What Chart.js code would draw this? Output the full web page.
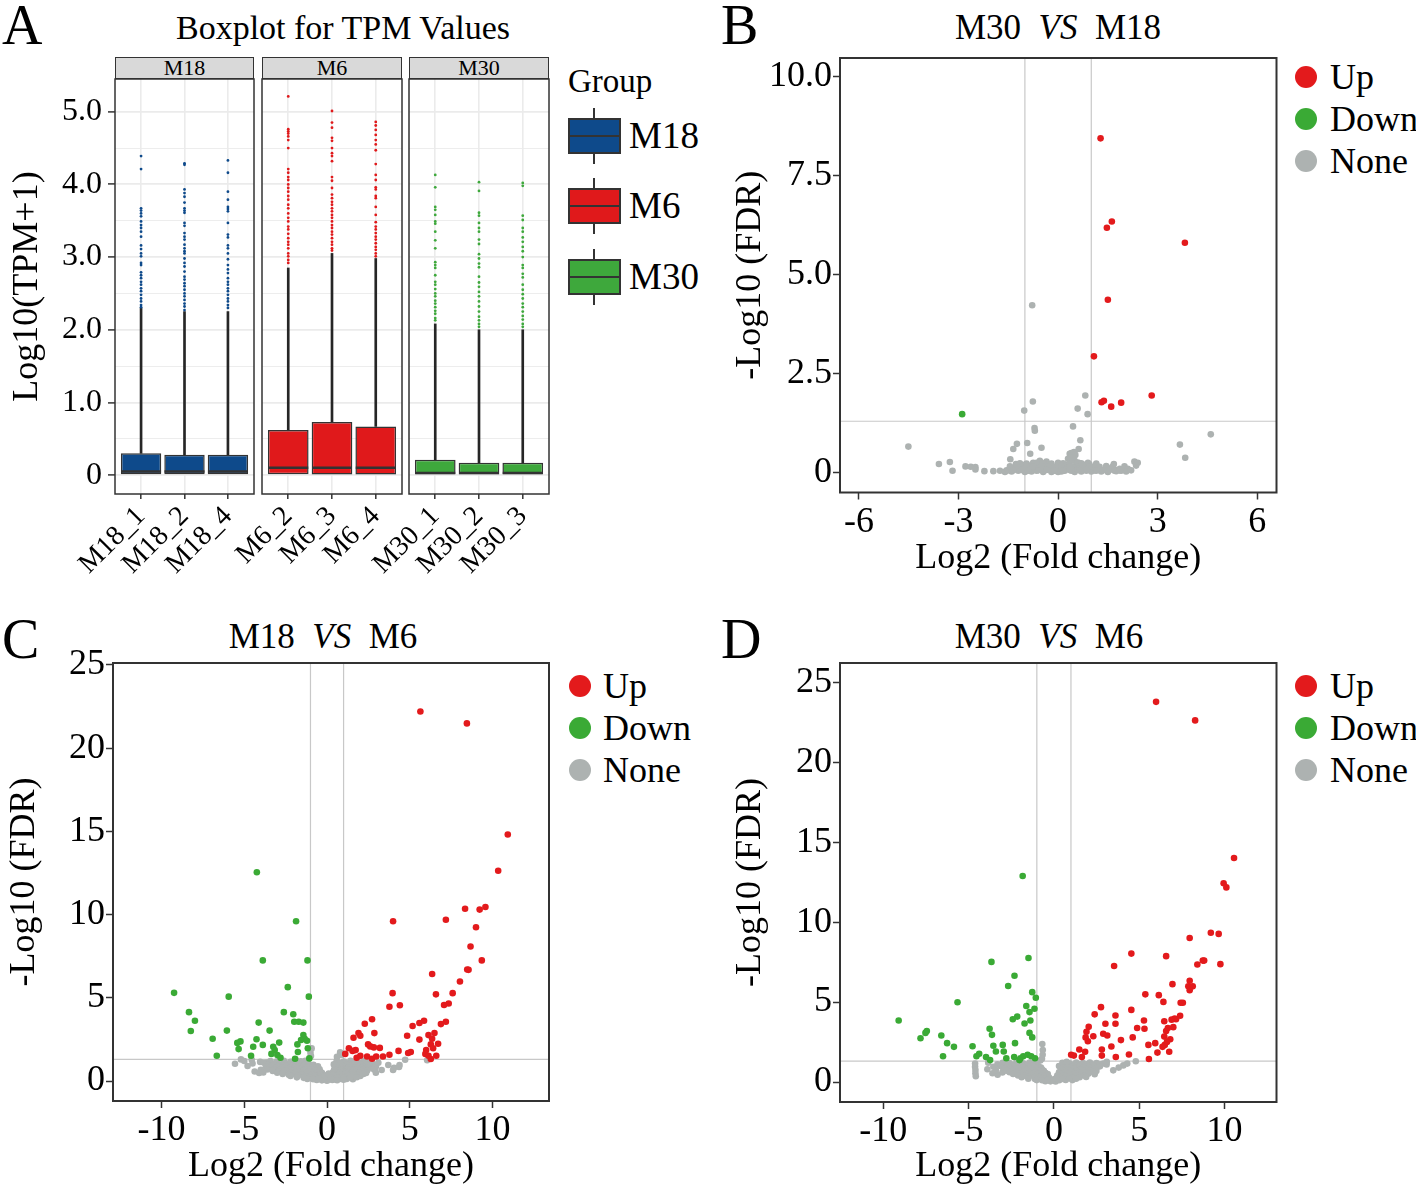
<!DOCTYPE html>
<html>
<head>
<meta charset="utf-8">
<title>TPM boxplot and volcano plots</title>
<script src="https://cdn.jsdelivr.net/npm/chart.js@4.4.1/dist/chart.umd.min.js"></script>
<style>
  html, body { margin: 0; background: #fff; }
  #fig { position: relative; width: 1416px; height: 1188px; overflow: hidden; font-family: 'Liberation Serif', 'Times New Roman', serif; color: #000; }
  #fig canvas { position: absolute; }
  .txt { position: absolute; white-space: pre; line-height: 1; }
  .mid { transform: translateX(-50%); }
  .dot { position: absolute; width: 22px; height: 22px; border-radius: 50%; }
  .strip { position: absolute; top: 57px; height: 22px; box-sizing: border-box; border: 1.5px solid #333; background: #d9d9d9; font-size: 22px; line-height: 20px; text-align: center; }
  .key { position: absolute; box-sizing: border-box; }
</style>
</head>
<body>
<div id="fig">
  <div class="txt" style="left:2px;top:-3px;font-size:56px">A</div>
  <div class="txt" style="left:721px;top:-3px;font-size:56px">B</div>
  <div class="txt" style="left:2px;top:611px;font-size:56px">C</div>
  <div class="txt" style="left:721px;top:611px;font-size:56px">D</div>

  <div class="txt mid" style="left:343px;top:11px;font-size:34px">Boxplot for TPM Values</div>
  <div class="txt mid" style="left:1058px;top:10px;font-size:35px">M30  <i>VS</i>  M18</div>
  <div class="txt mid" style="left:323px;top:619px;font-size:35px">M18  <i>VS</i>  M6</div>
  <div class="txt mid" style="left:1049px;top:619px;font-size:35px">M30  <i>VS</i>  M6</div>

  <div class="strip" style="left:115px;width:139px">M18</div>
  <div class="strip" style="left:262px;width:140px">M6</div>
  <div class="strip" style="left:409px;width:140px">M30</div>

  <div class="txt" style="left:568px;top:65px;font-size:33px">Group</div>
  <div id="legA"></div>
  <div id="legB"></div>
  <div id="legC"></div>
  <div id="legD"></div>

  <canvas id="a1" width="299" height="580" style="left:0;top:0"></canvas>
  <canvas id="a2" width="247" height="580" style="left:200px;top:0"></canvas>
  <canvas id="a3" width="244" height="580" style="left:350px;top:0"></canvas>
  <canvas id="cb" width="706" height="580" style="left:710px;top:0"></canvas>
  <canvas id="cc" width="710" height="588" style="left:0;top:600px"></canvas>
  <canvas id="cd" width="706" height="588" style="left:710px;top:600px"></canvas>
</div>

<script>
// ---- Panel A : boxplot des TPM (log10) ----
const aGroups = ['M18', 'M6', 'M30'];
const aSamplesM18 = ['M18_1', 'M18_2', 'M18_4'];
const aSamplesM6 = ['M6_2', 'M6_3', 'M6_4'];
const aSamplesM30 = ['M30_1', 'M30_2', 'M30_3'];

const aQ1M18 = [0, 0, 0];
const aMedM18 = [0.05, 0.05, 0.05];
const aQ3M18 = [0.30, 0.28, 0.28];
const aHiM18 = [2.30, 2.25, 2.25];

const aQ1M6 = [0, 0.01, 0.01];
const aMedM6 = [0.10, 0.10, 0.10];
const aQ3M6 = [0.62, 0.73, 0.67];
const aHiM6 = [2.85, 3.05, 2.98];

const aQ1M30 = [0, 0, 0];
const aMedM30 = [0.03, 0.03, 0.03];
const aQ3M30 = [0.21, 0.17, 0.17];
const aHiM30 = [2.08, 2.00, 2.00];

const aOutM18_1 = [4.39, 4.21, 3.67, 3.64, 3.60, 3.56, 3.49, 3.44, 3.40, 3.35, 3.28, 3.16, 3.11, 3.05, 3.01, 2.92, 2.89, 2.79, 2.75, 2.71, 2.66, 2.62, 2.57, 2.53, 2.48, 2.43, 2.39, 2.34, 2.31];
const aOutM18_2 = [4.29, 4.27, 3.93, 3.88, 3.83, 3.75, 3.67, 3.64, 3.61, 3.47, 3.43, 3.33, 3.28, 3.24, 3.17, 3.12, 3.08, 3.05, 2.98, 2.92, 2.87, 2.80, 2.73, 2.69, 2.64, 2.60, 2.55, 2.50, 2.46, 2.41, 2.36, 2.32, 2.27];
const aOutM18_4 = [4.33, 4.16, 3.90, 3.79, 3.69, 3.66, 3.63, 3.47, 3.31, 3.27, 3.16, 3.12, 3.05, 2.97, 2.89, 2.83, 2.78, 2.71, 2.66, 2.62, 2.57, 2.53, 2.48, 2.43, 2.39, 2.34, 2.30];
const aOutM6_2 = [5.21, 4.76, 4.73, 4.70, 4.66, 4.61, 4.50, 4.21, 4.16, 4.10, 4.06, 4.00, 3.95, 3.90, 3.84, 3.79, 3.72, 3.67, 3.60, 3.54, 3.49, 3.42, 3.38, 3.32, 3.26, 3.21, 3.17, 3.12, 3.05, 3.01, 2.96, 2.92];
const aOutM6_3 = [5.01, 4.85, 4.78, 4.64, 4.60, 4.50, 4.43, 4.39, 4.32, 4.10, 4.05, 3.95, 3.86, 3.81, 3.76, 3.72, 3.67, 3.63, 3.58, 3.54, 3.49, 3.44, 3.40, 3.35, 3.31, 3.26, 3.21, 3.17, 3.12, 3.09];
const aOutM6_4 = [4.86, 4.81, 4.75, 4.68, 4.61, 4.55, 4.47, 4.28, 4.13, 4.06, 3.96, 3.93, 3.84, 3.81, 3.69, 3.58, 3.48, 3.42, 3.38, 3.33, 3.28, 3.24, 3.19, 3.14, 3.10, 3.05, 3.01];
const aOutM30_1 = [4.13, 3.96, 3.69, 3.65, 3.58, 3.49, 3.46, 3.35, 3.23, 3.12, 2.93, 2.89, 2.85, 2.75, 2.66, 2.62, 2.56, 2.50, 2.46, 2.40, 2.36, 2.31, 2.26, 2.22, 2.16, 2.13];
const aOutM30_2 = [4.03, 3.91, 3.61, 3.57, 3.47, 3.40, 3.35, 3.24, 3.18, 3.04, 2.98, 2.91, 2.86, 2.73, 2.65, 2.59, 2.52, 2.46, 2.39, 2.32, 2.25, 2.18, 2.13, 2.08, 2.04];
const aOutM30_3 = [4.02, 3.98, 3.57, 3.51, 3.40, 3.35, 3.27, 3.21, 3.14, 3.08, 3.00, 2.89, 2.85, 2.77, 2.72, 2.62, 2.55, 2.49, 2.43, 2.36, 2.31, 2.25, 2.19, 2.14, 2.08, 2.04];

const aYTicks = [0, 1, 2, 3, 4, 5];
const aYGrid = [0, 0.5, 1, 1.5, 2, 2.5, 3, 3.5, 4, 4.5, 5];

// ---- Panels B, C, D : volcano plots, points [log2FC, -log10 FDR] ----
const FC_CUT = 1;
const FDR_CUT = 1.3;

const bXTicks = [-6, -3, 0, 3, 6];
const bYTicks = [0, 2.5, 5, 7.5, 10];
const bUp = [[1.28, 8.45], [1.62, 6.35], [1.47, 6.19], [3.82, 5.81], [1.50, 4.37], [1.08, 2.94], [2.82, 1.95], [1.90, 1.77], [1.60, 1.67], [1.31, 1.78], [1.38, 1.82]];
const bDown = [[-2.89, 1.48]];
const bNone = [
  [-4.51, 0.66], [-3.59, 0.22], [-3.26, 0.27], [-3.18, 0.05], [-2.79, 0.16], [-2.63, 0.15], [-2.49, 0.14], [-2.49, 0.08], [-2.22, 0.04],
  [-1.95, 0.04], [-1.75, 0.05], [-1.55, 0.06], [-1.44, 0.34], [-1.35, 0.60], [-1.24, 0.73], [-1.02, 1.57], [-0.76, 1.80], [-0.78, 4.23],
  [-0.93, 0.75], [-0.71, 1.13], [-0.70, 1.06], [-0.50, 0.63], [-0.84, 0.48], [-1.27, 0.22], [0.45, 1.17], [0.59, 1.62], [0.82, 1.95],
  [0.89, 1.48], [0.67, 0.82], [0.62, 0.60], [0.35, 0.48], [0.40, 0.50], [0.94, 0.22], [1.70, 0.08], [1.68, 0.22], [1.86, 0.10],
  [2.00, 0.16], [2.10, 0.10], [2.30, 0.28], [2.40, 0.25], [2.35, 0.18], [3.67, 0.71], [3.83, 0.38], [4.60, 0.97],
  [-1.60, 0.02], [-1.50, 0.06], [-1.40, 0.03], [-1.30, 0.10], [-1.20, 0.05], [-1.10, 0.14], [-1.00, 0.02], [-1.00, 0.20], [-0.90, 0.08],
  [-0.85, 0.18], [-0.80, 0.03], [-0.75, 0.25], [-0.70, 0.12], [-0.65, 0.05], [-0.60, 0.22], [-0.55, 0.30], [-0.50, 0.10], [-0.45, 0.02],
  [-0.40, 0.18], [-0.35, 0.28], [-0.30, 0.08], [-0.25, 0.15], [-0.20, 0.02], [-0.15, 0.10], [-0.10, 0.05], [0.00, 0.02], [0.05, 0.08],
  [0.10, 0.03], [0.15, 0.12], [0.20, 0.05], [0.25, 0.20], [0.30, 0.10], [0.30, 0.35], [0.35, 0.25], [0.40, 0.05], [0.42, 0.42],
  [0.45, 0.15], [0.50, 0.30], [0.50, 0.02], [0.55, 0.20], [0.60, 0.08], [0.65, 0.15], [0.70, 0.03], [0.75, 0.10], [0.80, 0.20],
  [0.85, 0.05], [0.90, 0.12], [1.00, 0.03], [1.05, 0.15], [1.10, 0.06], [1.20, 0.10], [1.30, 0.03], [1.40, 0.08], [1.50, 0.02],
  [1.60, 0.12], [1.75, 0.04], [1.90, 0.05], [2.05, 0.03], [2.20, 0.06],
  [-1.15, 0.24], [-0.95, 0.23], [-0.65, 0.25], [-0.45, 0.24], [-0.20, 0.23], [0.00, 0.25], [0.15, 0.24], [0.60, 0.26], [0.70, 0.24],
  [0.90, 0.25], [1.15, 0.23], [-1.45, 0.16], [-1.25, 0.17], [-0.95, 0.15], [-0.75, 0.16], [-0.50, 0.17], [-0.30, 0.15], [-0.05, 0.16],
  [0.10, 0.17], [0.35, 0.15], [0.75, 0.17], [0.95, 0.16], [1.25, 0.15], [1.45, 0.17], [1.65, 0.16], [-1.35, 0.06], [-1.10, 0.07],
  [-0.90, 0.05], [-0.60, 0.06], [-0.35, 0.07], [-0.10, 0.06], [0.15, 0.05], [0.35, 0.07], [0.65, 0.06], [0.85, 0.07], [1.15, 0.05],
  [1.35, 0.06], [1.55, 0.07], [1.70, 0.05], [1.85, 0.06], [0.38, 0.38], [0.48, 0.52], [0.52, 0.45]
];

const cXTicks = [-10, -5, 0, 5, 10];
const cYTicks = [0, 5, 10, 15, 20, 25];
const cUp = [
  [5.64, 22.21], [8.45, 21.49], [10.92, 14.81], [10.34, 12.64], [8.34, 10.35], [9.57, 10.46], [9.22, 10.30], [7.18, 9.69], [3.99, 9.60],
  [9.00, 9.24], [8.67, 8.08], [9.35, 7.25], [8.47, 6.70], [8.55, 6.68], [6.35, 6.43], [8.03, 5.98], [6.58, 5.21], [3.96, 5.28],
  [7.59, 5.28], [7.35, 4.66], [7.07, 4.57], [3.77, 4.46], [4.40, 4.55], [2.72, 3.71], [2.28, 3.44], [5.86, 3.62], [5.58, 3.49],
  [5.17, 3.31], [7.18, 3.56], [6.88, 3.42], [1.90, 2.88], [2.01, 2.72], [1.60, 2.60], [2.86, 2.88], [2.48, 2.20], [4.84, 2.72],
  [5.58, 2.49], [6.13, 2.76], [6.49, 2.88], [6.35, 2.54], [6.27, 2.20], [6.71, 2.24], [5.99, 1.86], [6.41, 1.97], [5.94, 1.63],
  [6.13, 1.52], [6.27, 1.32], [6.60, 1.52], [4.32, 1.81], [4.90, 1.68], [5.06, 1.74], [3.19, 1.99], [2.83, 2.02], [2.61, 2.08],
  [1.32, 1.97], [1.73, 1.86], [1.10, 1.63], [2.01, 1.52], [2.42, 1.47], [2.72, 1.34], [2.97, 1.47], [3.38, 1.47], [3.77, 1.58],
  [1.54, 1.81], [1.79, 1.40]
];
const cDown = [
  [-9.24, 5.30], [-8.34, 4.14], [-7.98, 3.62], [-8.23, 3.01], [-5.94, 5.07], [-4.24, 12.55], [-3.88, 7.25], [-1.87, 9.60], [-1.18, 7.25],
  [-1.10, 5.07], [-2.37, 5.64], [-2.61, 4.14], [-2.04, 4.01], [-4.13, 3.51], [-1.98, 3.56], [-1.71, 3.56], [-1.43, 3.51], [-6.05, 3.03],
  [-3.47, 3.03], [-6.91, 2.54], [-5.23, 2.38], [-5.42, 2.29], [-4.26, 2.51], [-3.88, 2.17], [-4.46, 2.06], [-2.89, 2.31], [-1.43, 2.76],
  [-1.35, 2.54], [-1.57, 2.47], [-1.21, 2.42], [-1.79, 2.20], [-1.16, 1.97], [-3.25, 2.06], [-3.16, 1.86], [-5.34, 1.92], [-3.36, 1.63],
  [-3.00, 1.56], [-1.76, 1.74], [-4.59, 1.52], [-6.66, 1.52], [-2.81, 1.40], [-1.93, 1.34], [-1.07, 1.36]
];
const cNone = [
  [-5.56, 1.04], [-5.20, 1.30], [-4.55, 1.28], [-4.37, 0.57], [-4.10, 0.48], [-4.00, 0.68], [-4.04, 1.15], [-3.85, 0.52], [-3.63, 1.11],
  [-4.80, 0.90], [-4.50, 1.05], [-5.00, 1.20],
  [-3.42, 1.20], [-3.02, 1.18], [-2.61, 1.22], [-2.20, 1.16], [-1.88, 1.24], [-1.58, 1.19], [-1.31, 1.21],
  [-3.81, 1.10], [-3.38, 1.09], [-2.99, 1.11], [-2.58, 1.08], [-2.21, 1.12], [-1.79, 1.09], [-1.46, 1.11], [-1.14, 1.10],
  [-3.58, 0.98], [-3.20, 1.02], [-2.79, 0.97], [-2.41, 1.03], [-2.02, 0.99], [-1.69, 1.04], [-1.40, 0.96], [-1.12, 1.01], [-0.82, 0.98],
  [-3.69, 0.89], [-3.31, 0.91], [-2.88, 0.88], [-2.52, 0.92], [-2.09, 0.90], [-1.76, 0.89], [-1.44, 0.91], [-1.16, 0.88], [-0.86, 0.90], [-0.55, 0.89],
  [-3.47, 0.80], [-3.09, 0.78], [-2.71, 0.83], [-2.30, 0.79], [-1.92, 0.81], [-1.52, 0.77], [-1.21, 0.82], [-0.90, 0.79], [-0.62, 0.80],
  [-3.61, 0.70], [-3.19, 0.71], [-2.81, 0.69], [-2.39, 0.72], [-2.01, 0.70], [-1.61, 0.69], [-1.29, 0.71], [-0.99, 0.70], [-0.71, 0.69], [-0.45, 0.71],
  [-3.28, 0.61], [-2.90, 0.58], [-2.52, 0.63], [-2.10, 0.60], [-1.72, 0.57], [-1.41, 0.62], [-1.02, 0.59], [-0.71, 0.61], [-0.42, 0.58],
  [-3.01, 0.50], [-2.61, 0.51], [-2.19, 0.49], [-1.86, 0.51], [-1.49, 0.50], [-1.21, 0.49], [-0.89, 0.51], [-0.61, 0.50], [-0.31, 0.49],
  [-2.68, 0.42], [-2.31, 0.38], [-1.90, 0.41], [-1.52, 0.39], [-1.10, 0.42], [-0.79, 0.38], [-0.50, 0.41], [-0.22, 0.37],
  [-2.21, 0.30], [-1.76, 0.31], [-1.34, 0.29], [-0.99, 0.30], [-0.71, 0.31], [-0.44, 0.29], [-0.19, 0.30],
  [-1.82, 0.22], [-1.41, 0.19], [-1.02, 0.21], [-0.61, 0.18], [-0.30, 0.20], [-0.62, 0.06], [-0.31, 0.04], [0.00, 0.02],
  [-1.19, 0.12], [-0.84, 0.11], [-0.49, 0.13], [-0.15, 0.12], [0.15, 0.12], [0.46, 0.11], [0.81, 0.13], [1.19, 0.12], [1.56, 0.11],
  [0.18, 0.10], [-0.12, 0.30], [0.10, 0.45],
  [0.58, 1.20], [1.01, 1.17], [1.42, 1.22], [1.79, 1.18], [2.21, 1.21], [2.60, 1.16],
  [0.71, 1.10], [1.10, 1.11], [1.49, 1.09], [1.91, 1.10], [2.29, 1.12], [2.71, 1.09],
  [0.41, 1.00], [0.79, 1.03], [1.20, 0.98], [1.61, 1.02], [2.02, 0.99], [2.39, 1.01], [2.80, 0.97],
  [0.56, 0.90], [0.94, 0.89], [1.36, 0.91], [1.74, 0.90], [2.16, 0.89], [2.54, 0.91], [2.96, 0.90],
  [0.52, 0.81], [0.90, 0.78], [1.31, 0.80], [1.70, 0.83], [2.10, 0.79], [2.50, 0.81], [2.92, 0.78],
  [0.44, 0.70], [0.86, 0.71], [1.24, 0.69], [1.66, 0.70], [2.04, 0.71], [2.46, 0.69], [2.84, 0.70],
  [0.40, 0.60], [0.81, 0.62], [1.19, 0.58], [1.60, 0.61], [2.02, 0.60], [2.41, 0.62],
  [0.34, 0.50], [0.76, 0.51], [1.14, 0.49], [1.56, 0.50], [1.94, 0.51], [2.36, 0.49],
  [0.30, 0.41], [0.70, 0.39], [1.12, 0.42], [1.50, 0.40], [1.90, 0.38], [2.20, 0.42],
  [0.26, 0.30], [0.54, 0.31], [0.91, 0.29], [1.29, 0.30], [1.66, 0.31], [2.01, 0.30],
  [0.21, 0.20], [0.60, 0.22], [1.01, 0.19], [1.40, 0.21], [1.80, 0.23], [0.32, 0.06], [0.61, 0.05], [1.00, 0.08],
  [-0.93, 1.96], [-1.00, 1.70], [-0.97, 1.50], [0.79, 1.72], [0.85, 1.56], [0.60, 1.45],
  [3.30, 0.66], [3.70, 0.96], [4.05, 0.80], [4.38, 0.96], [4.72, 1.28], [3.99, 0.66], [4.35, 0.84], [6.05, 1.25], [3.10, 1.10], [2.95, 0.50]
];

const dXTicks = [-10, -5, 0, 5, 10];
const dYTicks = [0, 5, 10, 15, 20, 25];
const dUp = [
  [5.99, 23.77], [8.28, 22.61], [10.56, 14.01], [9.95, 12.43], [10.11, 12.17], [7.96, 9.00], [9.20, 9.33], [9.66, 9.26], [4.54, 8.03],
  [6.58, 7.87], [8.73, 7.59], [8.81, 7.59], [8.41, 7.35], [9.76, 7.37], [3.53, 7.25], [6.95, 6.12], [7.96, 6.33], [7.88, 5.98],
  [8.14, 5.98], [7.96, 5.74], [5.36, 5.48], [6.15, 5.43], [6.42, 5.01], [7.43, 4.96], [7.56, 4.96], [2.76, 4.68], [4.54, 4.51],
  [2.39, 4.23], [3.61, 4.16], [7.40, 4.14], [7.08, 3.97], [7.16, 3.92], [6.90, 3.90], [6.47, 3.80], [5.28, 3.85], [3.02, 3.64],
  [3.61, 3.64], [2.04, 3.45], [5.31, 3.33], [4.88, 3.38], [6.68, 3.38], [7.00, 3.43], [6.58, 3.19], [1.91, 3.14], [2.89, 3.02],
  [3.13, 2.91], [1.86, 2.79], [1.99, 2.55], [2.31, 2.86], [3.93, 2.62], [4.62, 2.79], [6.47, 2.84], [6.82, 2.67], [6.63, 2.50],
  [6.50, 2.32], [6.37, 2.20], [5.94, 2.43], [5.54, 2.32], [3.37, 2.22], [2.81, 2.03], [1.49, 2.03], [1.83, 1.89], [6.07, 1.84],
  [6.76, 1.89], [4.40, 1.72], [1.01, 1.70], [1.17, 1.65], [1.64, 1.56], [2.81, 1.65], [3.63, 1.56], [5.57, 1.44]
];
const dDown = [
  [-1.83, 12.88], [-3.66, 7.51], [-1.49, 7.75], [-2.31, 6.64], [-2.68, 6.00], [-1.27, 5.62], [-1.06, 5.27], [-5.65, 4.99], [-1.62, 4.75],
  [-1.14, 4.58], [-1.43, 4.37], [-9.10, 3.85], [-2.15, 4.09], [-2.41, 3.92], [-1.38, 3.85], [-1.72, 3.66], [-3.77, 3.33], [-7.45, 3.19],
  [-7.53, 3.07], [-3.63, 2.95], [-1.43, 3.07], [-1.27, 2.79], [-7.82, 2.74], [-6.60, 2.91], [-6.26, 2.43], [-5.86, 2.20], [-4.77, 2.24],
  [-3.55, 2.27], [-3.00, 2.32], [-2.28, 2.43], [-3.40, 1.91], [-2.94, 1.91], [-4.38, 1.77], [-4.54, 1.61], [-6.50, 1.61], [-3.98, 1.56],
  [-2.79, 1.49], [-2.33, 1.56], [-1.96, 1.49], [-1.80, 1.61], [-1.54, 1.70], [-1.33, 1.61], [-1.11, 1.49], [-2.02, 1.37], [-3.74, 1.37]
];
const dNone = [
  [-4.62, 1.15], [-4.62, 0.95], [-4.60, 0.75], [-4.60, 0.55], [-4.58, 0.36],
  [-3.85, 1.21], [-3.90, 0.80], [-3.60, 0.55], [-3.30, 0.45], [-3.40, 0.75], [-3.02, 0.60], [-3.55, 0.95],
  [-3.00, 1.20], [-2.61, 1.18], [-2.20, 1.22], [-1.81, 1.17], [-1.42, 1.21], [-1.10, 1.19],
  [-3.31, 1.10], [-2.89, 1.11], [-2.49, 1.09], [-2.11, 1.10], [-1.69, 1.11], [-1.31, 1.09], [-0.99, 1.10],
  [-3.12, 1.00], [-2.70, 1.02], [-2.31, 0.97], [-1.90, 1.01], [-1.52, 0.99], [-1.20, 1.03], [-0.90, 0.98],
  [-2.99, 0.90], [-2.61, 0.91], [-2.19, 0.89], [-1.81, 0.90], [-1.39, 0.91], [-1.06, 0.89], [-0.76, 0.90],
  [-2.88, 0.81], [-2.50, 0.78], [-2.10, 0.82], [-1.71, 0.79], [-1.30, 0.81], [-1.00, 0.78], [-0.70, 0.80],
  [-2.79, 0.70], [-2.41, 0.71], [-1.99, 0.69], [-1.61, 0.70], [-1.21, 0.71], [-0.89, 0.69], [-0.59, 0.70],
  [-2.60, 0.61], [-2.21, 0.58], [-1.80, 0.62], [-1.41, 0.60], [-1.10, 0.59], [-0.80, 0.62], [-0.50, 0.58],
  [-2.39, 0.50], [-1.99, 0.51], [-1.61, 0.49], [-1.24, 0.50], [-0.94, 0.51], [-0.66, 0.49], [-0.36, 0.50],
  [-2.10, 0.41], [-1.70, 0.39], [-1.31, 0.42], [-1.00, 0.38], [-0.70, 0.41], [-0.40, 0.39],
  [-1.89, 0.30], [-1.51, 0.31], [-1.14, 0.29], [-0.84, 0.30], [-0.56, 0.31], [-0.29, 0.30],
  [-1.50, 0.21], [-1.11, 0.19], [-0.80, 0.22], [-0.50, 0.20], [-0.20, 0.18], [-0.50, 0.05], [-0.20, 0.04], [0.10, 0.03],
  [-1.01, 0.12], [-0.69, 0.11], [-0.36, 0.13], [0.00, 0.12], [0.31, 0.11], [0.69, 0.13], [1.09, 0.12],
  [-0.68, 2.37], [-0.65, 2.00], [-0.66, 1.70], [-0.70, 1.45], [-0.80, 1.35],
  [0.50, 1.20], [0.90, 1.17], [1.31, 1.22], [1.70, 1.18], [2.11, 1.21], [2.50, 1.19], [2.90, 1.16],
  [0.69, 1.10], [1.11, 1.09], [1.49, 1.11], [1.91, 1.10], [2.29, 1.09], [2.71, 1.11], [3.09, 1.10],
  [0.30, 1.00], [0.71, 1.02], [1.10, 0.98], [1.50, 1.01], [1.91, 0.99], [2.30, 1.03], [2.70, 0.98],
  [0.49, 0.90], [0.91, 0.89], [1.29, 0.91], [1.71, 0.90], [2.09, 0.89], [2.51, 0.91],
  [0.40, 0.81], [0.80, 0.79], [1.21, 0.82], [1.60, 0.80], [2.00, 0.78], [2.41, 0.81],
  [0.51, 0.70], [0.89, 0.71], [1.31, 0.69], [1.69, 0.70], [2.11, 0.71], [2.49, 0.69],
  [0.30, 0.60], [0.70, 0.62], [1.11, 0.58], [1.50, 0.61], [1.90, 0.59], [2.30, 0.62],
  [0.41, 0.50], [0.79, 0.51], [1.21, 0.49], [1.59, 0.50], [2.01, 0.51], [2.39, 0.49],
  [0.20, 0.40], [0.61, 0.41], [1.00, 0.38], [1.40, 0.42], [1.80, 0.40], [0.29, 0.30], [0.71, 0.31], [1.09, 0.29], [1.51, 0.30], [1.89, 0.31],
  [0.10, 0.21], [0.50, 0.19], [0.90, 0.22], [1.30, 0.20],
  [3.48, 0.73], [4.07, 1.04], [4.30, 1.15], [4.80, 1.30], [3.10, 1.27], [3.80, 0.90], [0.75, 1.27]
];

// ---- style ----
const SERIF = "'Liberation Serif', 'Times New Roman', serif";
const A_COLORS = { M18: '#0e4a8b', M6: '#e0191b', M30: '#3ea83c' };
const UP = '#e31a1c', DOWN = '#3aaa35', NONE = '#adb2b1';
const INK = '#333333';

Chart.defaults.font.family = SERIF;
Chart.defaults.color = '#000';

const framePlugin = {
  id: 'frame',
  afterDatasetsDraw(chart, args, opts) {
    const { ctx, chartArea: a } = chart;
    ctx.save();
    ctx.strokeStyle = opts.color || INK;
    ctx.lineWidth = opts.width || 1.5;
    ctx.strokeRect(a.left, a.top, a.right - a.left, a.bottom - a.top);
    ctx.restore();
  }
};

const base = { responsive: false, animation: false, devicePixelRatio: 1, events: [] };
const fixW = (w) => (s) => { s.width = w; };
const fixH = (h) => (s) => { s.height = h; };
const setTicks = (arr) => (s) => { s.ticks = arr.map((v) => ({ value: v })); };

// Un facet de boxplot (un chart par groupe) ; marge droite large pour les labels inclinés
function facet(id, samples, q1, med, q3, hi, outs, color, withAxis, padLeft) {
  const idx = samples.map((s, i) => i + 1);
  new Chart(document.getElementById(id), {
    type: 'bar',
    data: {
      datasets: [
        { type: 'bar', data: idx.map((x, i) => ({ x, y: [q3[i], hi[i]] })), backgroundColor: '#262626', barThickness: 2, grouped: false, order: 4 },
        { type: 'bar', data: idx.map((x, i) => ({ x, y: [q1[i], q3[i]] })), backgroundColor: color, borderColor: INK, borderWidth: 1.5,
          borderSkipped: false, barPercentage: 0.93, categoryPercentage: 1, grouped: false, order: 3 },
        { type: 'scatter', data: idx.map((x, i) => ({ x, y: med[i] })), pointStyle: 'line', pointRadius: 20,
          pointBorderColor: INK, pointBorderWidth: 2.5, order: 2 },
        { type: 'scatter', data: outs.flatMap((arr, i) => arr.map((y) => ({ x: i + 1, y }))), pointRadius: 1.4,
          pointBackgroundColor: color, pointBorderWidth: 0, order: 1 },
      ],
    },
    options: {
      ...base,
      layout: { padding: { left: padLeft, top: 79, right: 45, bottom: 0 } },
      plugins: { legend: { display: false }, tooltip: { enabled: false }, frame: { color: INK, width: 1.5 } },
      scales: {
        x: {
          type: 'linear', min: 0.4, max: 3.6, offset: false,
          afterBuildTicks: setTicks(idx), afterFit: fixH(86),
          grid: { color: '#ebebeb', lineWidth: 1.6, tickColor: INK, tickLength: 5, tickWidth: 1.5, offset: false },
          border: { display: false },
          ticks: { autoSkip: false, minRotation: 45, maxRotation: 45, padding: 1, font: { size: 28 }, color: '#000',
            callback: (v) => samples[v - 1] },
        },
        y: {
          type: 'linear', min: -0.26, max: 5.45,
          afterBuildTicks: setTicks(aYGrid), afterFit: fixW(withAxis ? 115 : 0),
          grid: {
            color: '#ebebeb', lineWidth: (c) => (aYTicks.includes(c.tick.value) ? 1.8 : 0.9),
            tickColor: (c) => (aYTicks.includes(c.tick.value) ? INK : 'rgba(0,0,0,0)'),
            drawTicks: withAxis, tickLength: 7, tickWidth: 1.5,
          },
          border: { display: false },
          ticks: { display: withAxis, padding: 6, font: { size: 32 }, color: '#000',
            callback: (v) => (aYTicks.includes(v) ? (v === 0 ? '0' : v.toFixed(1)) : '') },
          title: { display: withAxis, text: 'Log10(TPM+1)', font: { size: 36 }, color: '#000', padding: { top: 6 } },
        },
      },
    },
    plugins: [framePlugin],
  });
}

facet('a1', aSamplesM18, aQ1M18, aMedM18, aQ3M18, aHiM18, [aOutM18_1, aOutM18_2, aOutM18_4], A_COLORS.M18, true, 0);
facet('a2', aSamplesM6, aQ1M6, aMedM6, aQ3M6, aHiM6, [aOutM6_2, aOutM6_3, aOutM6_4], A_COLORS.M6, false, 62);
facet('a3', aSamplesM30, aQ1M30, aMedM30, aQ3M30, aHiM30, [aOutM30_1, aOutM30_2, aOutM30_3], A_COLORS.M30, false, 59);

// Volcano
function volcano(id, o) {
  const toXY = (arr) => arr.map(([x, y]) => ({ x, y }));
  const ref = (pts) => ({ type: 'scatter', data: pts, showLine: true, borderColor: '#c8c8c8', borderWidth: 1.2, pointRadius: 0, order: 10 });
  const pts = (arr, c, order) => ({ type: 'scatter', data: toXY(arr), pointRadius: 3.3, pointBackgroundColor: c, pointBorderWidth: 0, order });
  new Chart(document.getElementById(id), {
    type: 'scatter',
    data: {
      datasets: [
        ref([{ x: -FC_CUT, y: o.yMin }, { x: -FC_CUT, y: o.yMax }]),
        ref([{ x: FC_CUT, y: o.yMin }, { x: FC_CUT, y: o.yMax }]),
        ref([{ x: o.xMin, y: FDR_CUT }, { x: o.xMax, y: FDR_CUT }]),
        pts(o.none, NONE, 3),
        pts(o.down, DOWN, 2),
        pts(o.up, UP, 1),
      ],
    },
    options: {
      ...base,
      layout: { padding: { left: 0, top: o.top, right: o.right, bottom: 0 } },
      plugins: { legend: { display: false }, tooltip: { enabled: false }, frame: { color: INK, width: 2 } },
      scales: {
        x: {
          type: 'linear', min: o.xMin, max: o.xMax,
          afterBuildTicks: setTicks(o.xTicks), afterFit: fixH(o.xH),
          grid: { drawOnChartArea: false, tickColor: INK, tickLength: 7, tickWidth: 1.5 },
          border: { display: false },
          ticks: { autoSkip: false, maxRotation: 0, padding: 1, font: { size: 36 }, color: '#000', callback: (v) => String(v) },
          title: { display: true, text: 'Log2 (Fold change)', font: { size: 36 }, color: '#000', padding: { top: 0, bottom: 0 } },
        },
        y: {
          type: 'linear', min: o.yMin, max: o.yMax,
          afterBuildTicks: setTicks(o.yTicks), afterFit: fixW(o.yW),
          grid: { drawOnChartArea: false, tickColor: INK, tickLength: 7, tickWidth: 1.5 },
          border: { display: false },
          ticks: { padding: 1, font: { size: 36 }, color: '#000', callback: o.yFmt },
          title: { display: true, text: '-Log10 (FDR)', font: { size: 36 }, color: '#000', padding: { top: o.yTitlePad } },
        },
      },
    },
    plugins: [framePlugin],
  });
}

volcano('cb', { up: bUp, down: bDown, none: bNone, xMin: -6.57, xMax: 6.58, yMin: -0.5, yMax: 10.48,
  xTicks: bXTicks, yTicks: bYTicks, yFmt: (v) => (v === 0 ? '0' : v.toFixed(1)),
  top: 58, right: 139.5, yW: 130, xH: 87.5, yTitlePad: 19 });
volcano('cc', { up: cUp, down: cDown, none: cNone, xMin: -12.93, xMax: 13.41, yMin: -1.2, yMax: 25.12,
  xTicks: cXTicks, yTicks: cYTicks, yFmt: (v) => String(v),
  top: 63, right: 161, yW: 113, xH: 87, yTitlePad: 3 });
volcano('cd', { up: dUp, down: dDown, none: dNone, xMin: -12.54, xMax: 13.05, yMin: -1.25, yMax: 26.2,
  xTicks: dXTicks, yTicks: dYTicks, yFmt: (v) => String(v),
  top: 63, right: 139.5, yW: 130, xH: 86, yTitlePad: 19 });

// Légendes (HTML)
function legendVolcano(hostId, cx, cy0, textLeft) {
  const items = [['Up', UP], ['Down', DOWN], ['None', NONE]];
  document.getElementById(hostId).innerHTML = items.map(([l, c], i) => {
    const cy = cy0 + i * 42;
    return `<div class="dot" style="left:${cx - 11}px;top:${cy - 11}px;background:${c}"></div>` +
      `<div class="txt" style="left:${textLeft}px;top:${cy - 18}px;font-size:36px;line-height:36px">${l}</div>`;
  }).join('');
}
legendVolcano('legB', 1306, 77, 1330);
legendVolcano('legC', 580, 686, 603);
legendVolcano('legD', 1306, 686, 1330);

document.getElementById('legA').innerHTML = aGroups.map((g, i) => {
  const top = 118 + i * 70.3;
  const c = A_COLORS[g];
  return `<div class="key" style="left:593px;top:${top - 10}px;width:2px;height:56px;background:${INK}"></div>` +
    `<div class="key" style="left:568px;top:${top}px;width:53px;height:36px;background:${c};border:2px solid ${INK}"></div>` +
    `<div class="key" style="left:568px;top:${top + 17}px;width:53px;height:2px;background:${INK}"></div>` +
    `<div class="txt" style="left:629px;top:${top}px;font-size:37px;line-height:36px">${g}</div>`;
}).join('');
</script>
</body>
</html>
